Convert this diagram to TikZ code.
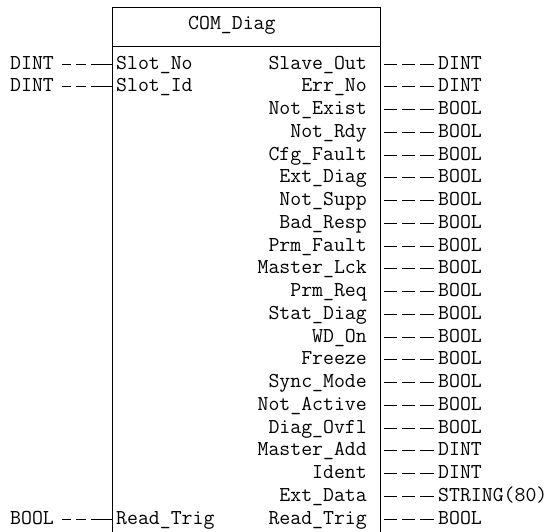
\documentclass[tikz,border=0pt]{standalone}
\usepackage{fontspec}
\usetikzlibrary{positioning}
\tikzset{
  fbbox/.style={rectangle,draw,line width=1pt,
    minimum width=268pt,minimum height=560pt,
    anchor=north west,inner sep=0pt},
  pinname/.style={font=\ttfamily\fontsize{21.2}{23}\selectfont,inner sep=0pt},
  typelbl/.style={font=\ttfamily\fontsize{21.2}{23}\selectfont,inner sep=0pt,
    anchor=base west},
  inwire/.style={line width=0.9pt,
    dash pattern=on 9pt off 5pt on 10pt off 5pt on 30pt off 0pt},
  outwire/.style={line width=0.9pt,
    dash pattern=on 13pt off 5pt on 13pt off 5pt on 20pt off 0pt},
}
\begin{document}
\begin{tikzpicture}[x=1pt,y=-1pt]
  \useasboundingbox (0,0) rectangle (551,531);

  % function block
  \node[fbbox] (fb) at (112,7) {};
  \coordinate (sep) at (0,46);
  \draw[line width=1pt] (fb.west |- sep) -- (fb.east |- sep);
  \node[pinname,anchor=base west] (title) at (188,29) {COM\_Diag};

  % inputs
  \foreach \r/\nm/\ty in {0/Slot\_No/DINT,1/Slot\_Id/DINT,20/Read\_Trig/BOOL}{
    \pgfmathsetmacro\yb{69+22.75*\r}
    \node[pinname,anchor=base west] (in\r) at (116,\yb) {\nm};
    \node[typelbl] (tin\r) at (10,\yb) {\ty};
    \coordinate (ia\r) at ([yshift=5pt]62,\yb);
    \draw[inwire] (ia\r) -- (ia\r -| fb.west);
  }

  % outputs
  \foreach \nm/\ty [count=\r from 0] in {Slave\_Out/DINT,Err\_No/DINT,
      Not\_Exist/BOOL,Not\_Rdy/BOOL,Cfg\_Fault/BOOL,Ext\_Diag/BOOL,
      Not\_Supp/BOOL,Bad\_Resp/BOOL,Prm\_Fault/BOOL,Master\_Lck/BOOL,
      Prm\_Req/BOOL,Stat\_Diag/BOOL,WD\_On/BOOL,Freeze/BOOL,
      Sync\_Mode/BOOL,Not\_Active/BOOL,Diag\_Ovfl/BOOL,Master\_Add/DINT,
      Ident/DINT,Ext\_Data/STRING(80),Read\_Trig/BOOL}{
    \pgfmathsetmacro\yb{69+22.75*\r}
    \node[pinname,anchor=base east] (out\r) at (367,\yb) {\nm};
    \node[typelbl] (tout\r) at (438,\yb) {\ty};
    \coordinate (oa\r) at ([yshift=5pt]tout\r.base west);
    \draw[outwire] ([xshift=3pt]oa\r -| fb.east) -- ([xshift=-4pt]oa\r);
  }
\end{tikzpicture}
\end{document}
